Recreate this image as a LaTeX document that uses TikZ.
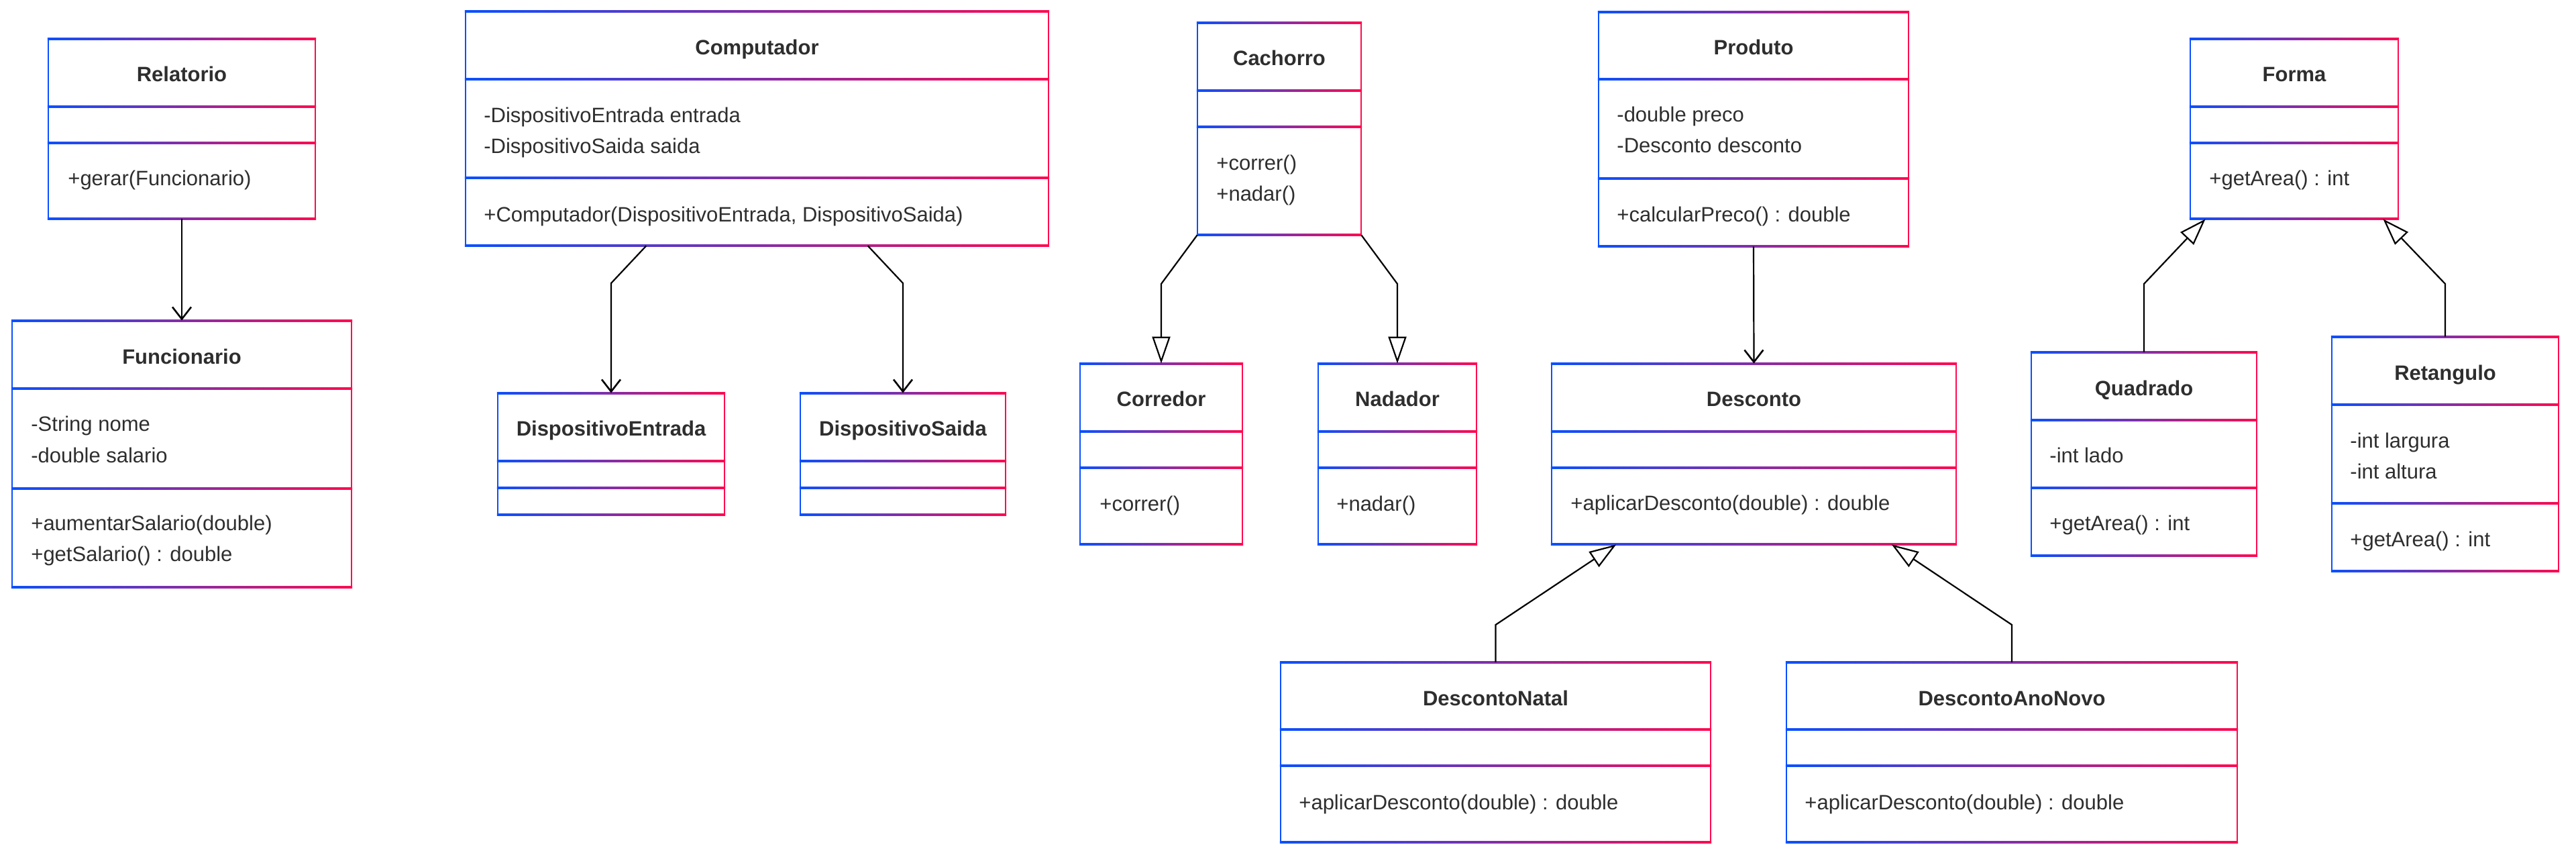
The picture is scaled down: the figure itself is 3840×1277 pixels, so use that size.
\documentclass[tikz,border=0pt]{standalone}
\usepackage{fontspec}
\setmainfont{Liberation Sans}
\usetikzlibrary{arrows.meta,fit,calc}
\definecolor{cblue}{HTML}{0A50FF}
\definecolor{cred}{HTML}{FF0A50}
\definecolor{txt}{HTML}{2E2E2E}
\newcommand\umlttlfont{\fontsize{15.5pt}{18pt}\selectfont\bfseries}
\newcommand\umlmemfont{\fontsize{15.5pt}{18pt}\selectfont}
% #1 name, #2 left, #3 top, #4 right, #5 bottom, #6 divider 1, #7 divider 2
\newcommand\umlclass[7]{%
  \node[inner sep=0pt, fit={(#2,#3) (#4,#5)}] (#1) {};
  \shade[left color=cblue, right color=cred] (#2-1.1,#3-1.1) rectangle (#4+1.1,#3+1.1);
  \shade[left color=cblue, right color=cred] (#2-1.1,#5-1.1) rectangle (#4+1.1,#5+1.1);
  \shade[left color=cblue, right color=cred] (#2-1.1,#6-1.1) rectangle (#4+1.1,#6+1.1);
  \shade[left color=cblue, right color=cred] (#2-1.1,#7-1.1) rectangle (#4+1.1,#7+1.1);
  \fill[cblue] (#2-1.1,#3-1.1) rectangle (#2+1.1,#5+1.1);
  \fill[cred] (#4-1.1,#3-1.1) rectangle (#4+1.1,#5+1.1);
}
\begin{document}
\begin{tikzpicture}[x=0.5pt, y=-0.5pt,
  ttl/.style={font=\umlttlfont, text=txt, anchor=base, inner sep=0pt},
  mem/.style={font=\umlmemfont, text=txt, anchor=base west, inner sep=0pt},
  assoc/.style={line width=1.1pt, draw=black, -{Straight Barb[length=9pt,width=14pt,line width=1.3pt]}},
  gen/.style={line width=1.1pt, draw=black, -{Triangle[open,length=20pt,width=13.5pt,line width=1.1pt]}}]
\useasboundingbox (0,0) rectangle (3840,1277);

% ---------- Relatorio / Funcionario
\umlclass{rel}{72}{58}{470}{326}{159}{213}
\node[ttl] (rel-t) at (271,122) {Relatorio};
\node[mem] (rel-m1) at (101,277) {+gerar(Funcionario)};

\umlclass{func}{18}{478}{524}{875}{579}{728}
\node[ttl] (func-t) at (271,543) {Funcionario};
\node[mem] (func-a1) at (46,643) {-String nome};
\node[mem] (func-a2) at (46,690) {-double salario};
\node[mem] (func-m1) at (46,791) {+aumentarSalario(double)};
\node[mem] (func-m2) at (46,837) {+getSalario() : double};

\draw[assoc] (rel.south) -- (func.north);

% ---------- Computador
\umlclass{comp}{694}{17}{1563}{366}{118}{265}
\node[ttl] (comp-t) at (1128.5,82) {Computador};
\node[mem] (comp-a1) at (721,183) {-DispositivoEntrada entrada};
\node[mem] (comp-a2) at (721,229) {-DispositivoSaida saida};
\node[mem] (comp-m1) at (721,331) {+Computador(DispositivoEntrada, DispositivoSaida)};

\umlclass{dent}{742}{586}{1080}{767}{687}{727}
\node[ttl] (dent-t) at (911,650) {DispositivoEntrada};
\umlclass{dsai}{1193}{586}{1499}{767}{687}{727}
\node[ttl] (dsai-t) at (1346,650) {DispositivoSaida};

\coordinate (cb1) at (911,422);
\coordinate (cb2) at (1346,422);
\draw[assoc] ($(comp.south west)!0.31!(comp.south east)$) -- (cb1) -- (dent.north);
\draw[assoc] ($(comp.south west)!0.69!(comp.south east)$) -- (cb2) -- (dsai.north);

% ---------- Cachorro
\umlclass{cach}{1785}{34}{2029}{350}{135}{189}
\node[ttl] (cach-t) at (1907,98) {Cachorro};
\node[mem] (cach-m1) at (1813,254) {+correr()};
\node[mem] (cach-m2) at (1813,300) {+nadar()};

\umlclass{corr}{1610}{542}{1852}{811}{643}{697}
\node[ttl] (corr-t) at (1731,606) {Corredor};
\node[mem] (corr-m1) at (1639,762) {+correr()};
\umlclass{nada}{1965}{542}{2201}{811}{643}{697}
\node[ttl] (nada-t) at (2083,606) {Nadador};
\node[mem] (nada-m1) at (1992,762) {+nadar()};

\coordinate (kb1) at (1731,423);
\coordinate (kb2) at (2083,423);
\draw[gen] (cach.south west) -- (kb1) -- (corr.north);
\draw[gen] (cach.south east) -- (kb2) -- (nada.north);

% ---------- Produto / Desconto
\umlclass{prod}{2383}{18}{2845}{367}{118}{266}
\node[ttl] (prod-t) at (2614,82) {Produto};
\node[mem] (prod-a1) at (2410,182) {-double preco};
\node[mem] (prod-a2) at (2410,228) {-Desconto desconto};
\node[mem] (prod-m1) at (2410,331) {+calcularPreco() : double};

\umlclass{desc}{2313}{542}{2916}{811}{643}{697}
\node[ttl] (desc-t) at (2614.5,606) {Desconto};
\node[mem] (desc-m1) at (2341,761) {+aplicarDesconto(double) : double};

\draw[assoc] (prod.south) -- (desc.north);

\umlclass{dnat}{1909}{987}{2550}{1255}{1087}{1141}
\node[ttl] (dnat-t) at (2229.5,1051) {DescontoNatal};
\node[mem] (dnat-m1) at (1936,1206) {+aplicarDesconto(double) : double};
\umlclass{dano}{2663}{987}{3335}{1255}{1087}{1141}
\node[ttl] (dano-t) at (2999,1051) {DescontoAnoNovo};
\node[mem] (dano-m1) at (2690,1206) {+aplicarDesconto(double) : double};

\coordinate (db1) at (2229.5,931);
\coordinate (db2) at (2999,931);
\draw[gen] (dnat.north) -- (db1) -- ($(desc.south west)!0.16!(desc.south east)$);
\draw[gen] (dano.north) -- (db2) -- ($(desc.south west)!0.84!(desc.south east)$);

% ---------- Forma
\umlclass{form}{3265}{58}{3575}{326}{159}{213}
\node[ttl] (form-t) at (3420,122) {Forma};
\node[mem] (form-m1) at (3293,277) {+getArea() : int};

\umlclass{quad}{3028}{525}{3364}{828}{626}{727}
\node[ttl] (quad-t) at (3196,590) {Quadrado};
\node[mem] (quad-a1) at (3055,690) {-int lado};
\node[mem] (quad-m1) at (3055,791) {+getArea() : int};

\umlclass{reta}{3476}{502}{3814}{851}{603}{750}
\node[ttl] (reta-t) at (3645,567) {Retangulo};
\node[mem] (reta-a1) at (3503,668) {-int largura};
\node[mem] (reta-a2) at (3503,714) {-int altura};
\node[mem] (reta-m1) at (3503,815) {+getArea() : int};

\coordinate (fb1) at (3196,423);
\coordinate (fb2) at (3645,423);
\draw[gen] (quad.north) -- (fb1) -- ($(form.south west)!0.074!(form.south east)$);
\draw[gen] (reta.north) -- (fb2) -- ($(form.south west)!0.926!(form.south east)$);
\end{tikzpicture}
\end{document}
